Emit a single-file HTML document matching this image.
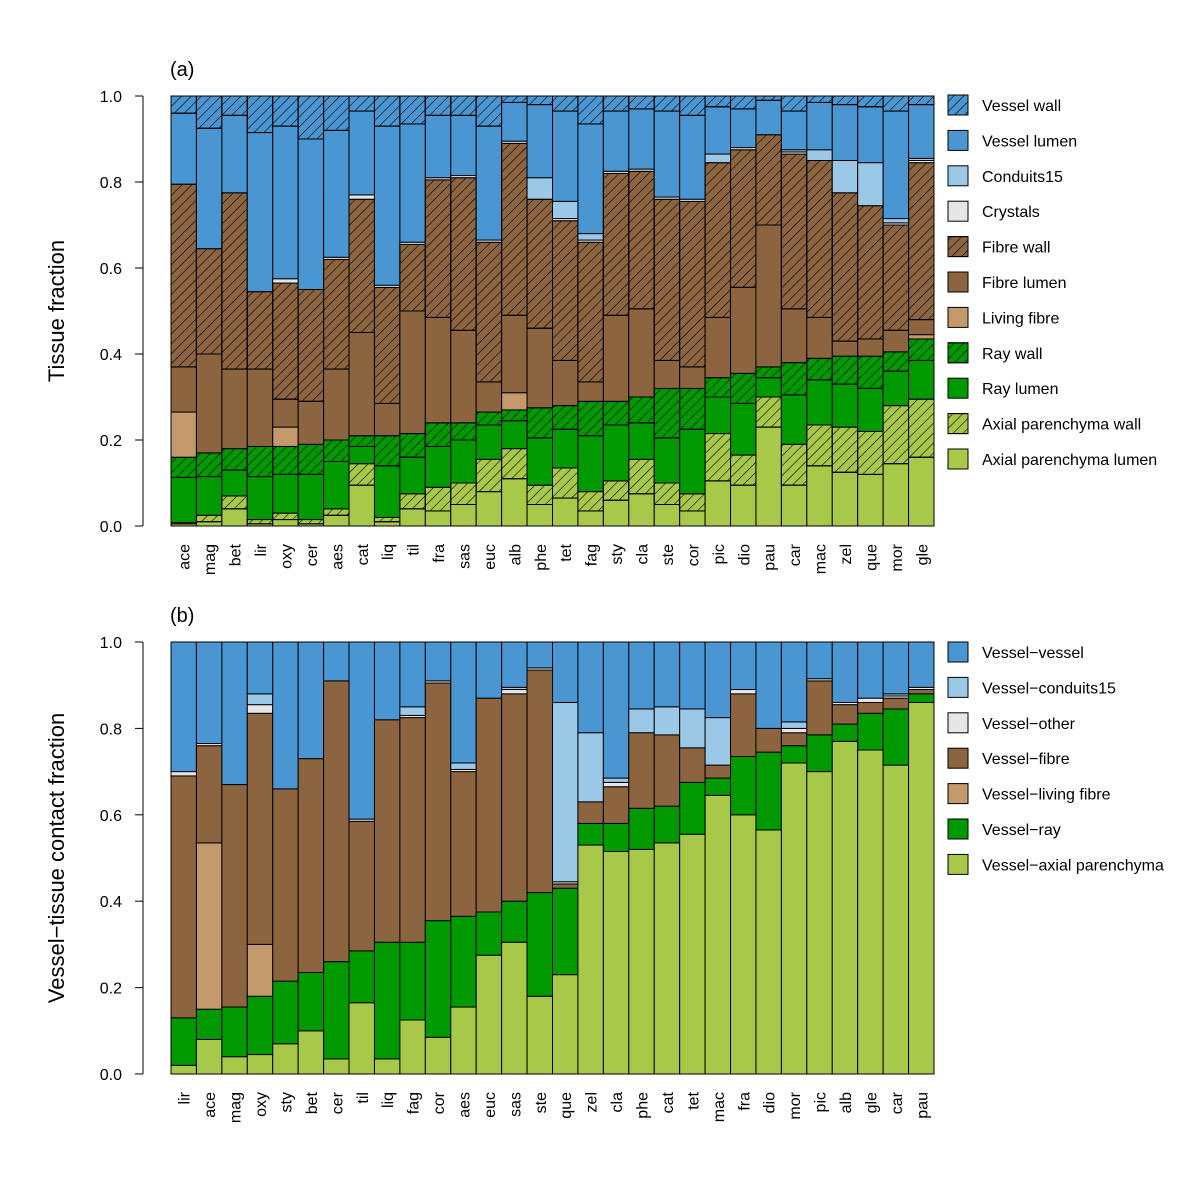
<!DOCTYPE html>
<html><head><meta charset="utf-8"><style>
body{margin:0;background:#fff}
svg{display:block;font-family:"Liberation Sans",Arial,sans-serif}
</style></head><body>
<svg id="chart" width="1196" height="1200" viewBox="0 0 1196 1200">
<defs>
<pattern id="hatch" patternUnits="userSpaceOnUse" width="7" height="7" patternTransform="rotate(45)">
<line x1="0" y1="0" x2="0" y2="7" stroke="#000" stroke-width="1.2"/>
</pattern>
</defs>
</svg>
<script>
// Panel (a) data: cumulative tops (bottom-to-top) per species
const speciesA=["ace","mag","bet","lir","oxy","cer","aes","cat","liq","til","fra","sas","euc","alb","phe","tet","fag","sty","cla","ste","cor","pic","dio","pau","car","mac","zel","que","mor","gle"];
const seriesA=["Axial parenchyma lumen","Axial parenchyma wall","Ray lumen","Ray wall","Living fibre","Fibre lumen","Fibre wall","Crystals","Conduits15","Vessel lumen","Vessel wall"];
const cumA=[
[.005,.008,.113,.16,.265,.37,.795,.795,.795,.96,1],
[.01,.025,.115,.17,.17,.40,.645,.645,.645,.925,1],
[.04,.07,.13,.18,.18,.365,.775,.775,.775,.955,1],
[.005,.015,.115,.185,.185,.365,.545,.545,.545,.915,1],
[.015,.03,.12,.185,.23,.295,.565,.575,.575,.93,1],
[.005,.015,.12,.19,.19,.29,.55,.55,.55,.90,1],
[.025,.04,.15,.20,.20,.365,.62,.625,.625,.92,1],
[.095,.145,.185,.21,.21,.45,.76,.77,.77,.965,1],
[.01,.02,.14,.21,.21,.285,.555,.56,.56,.93,1],
[.04,.075,.16,.215,.215,.50,.655,.66,.66,.935,1],
[.035,.09,.185,.24,.24,.485,.805,.81,.81,.955,1],
[.05,.10,.20,.24,.24,.455,.81,.815,.815,.955,1],
[.08,.155,.235,.265,.265,.335,.66,.665,.665,.93,1],
[.11,.18,.245,.27,.31,.49,.89,.895,.895,.985,1],
[.05,.095,.205,.275,.275,.46,.76,.76,.81,.98,1],
[.065,.135,.225,.28,.28,.385,.71,.715,.755,.965,1],
[.035,.08,.21,.29,.29,.335,.66,.665,.68,.935,1],
[.06,.105,.235,.29,.29,.49,.82,.825,.825,.965,1],
[.075,.155,.24,.30,.30,.505,.825,.83,.83,.97,1],
[.05,.10,.205,.32,.32,.385,.76,.765,.765,.965,1],
[.035,.075,.225,.32,.32,.37,.755,.76,.76,.955,1],
[.105,.215,.30,.345,.345,.485,.845,.845,.865,.975,1],
[.095,.165,.285,.355,.355,.555,.875,.88,.88,.97,1],
[.23,.30,.345,.37,.37,.70,.91,.91,.91,.99,1],
[.095,.19,.305,.38,.38,.505,.865,.87,.875,.965,1],
[.14,.235,.34,.39,.39,.485,.85,.85,.875,.985,1],
[.125,.23,.33,.395,.395,.43,.775,.775,.85,.98,1],
[.12,.22,.32,.395,.395,.435,.745,.745,.845,.975,1],
[.145,.28,.36,.405,.405,.455,.70,.705,.715,.965,1],
[.16,.295,.385,.435,.445,.48,.845,.85,.855,.98,1]];
const colorsA=["#a8c84a","#a8c84a","#009a00","#009a00","#c49a6c","#8c6440","#8c6440","#e6e6e6","#9cc8e8","#4a96d2","#4a96d2"];
const hatchA=[false,true,false,true,false,false,true,false,false,false,true];

// Panel (b) data
const speciesB=["lir","ace","mag","oxy","sty","bet","cer","til","liq","fag","cor","aes","euc","sas","ste","que","zel","cla","phe","cat","tet","mac","fra","dio","mor","pic","alb","gle","car","pau"];
const seriesB=["Vessel\u2212axial parenchyma","Vessel\u2212ray","Vessel\u2212living fibre","Vessel\u2212fibre","Vessel\u2212other","Vessel\u2212conduits15","Vessel\u2212vessel"];
const cumB=[
[.02,.13,.13,.69,.70,.70,1],[.08,.15,.535,.76,.765,.765,1],[.04,.155,.155,.67,.67,.67,1],
[.045,.18,.30,.835,.855,.88,1],[.07,.215,.215,.66,.66,.66,1],[.10,.235,.235,.73,.73,.73,1],
[.035,.26,.26,.91,.91,.91,1],[.165,.285,.285,.585,.59,.59,1],[.035,.305,.305,.82,.82,.82,1],
[.125,.305,.305,.825,.83,.85,1],[.085,.355,.355,.905,.91,.91,1],[.155,.365,.365,.70,.705,.72,1],
[.275,.375,.375,.87,.87,.87,1],[.305,.40,.40,.88,.89,.895,1],[.18,.42,.42,.935,.94,.94,1],
[.23,.43,.43,.44,.445,.86,1],[.53,.58,.58,.63,.63,.79,1],[.515,.58,.58,.665,.675,.685,1],
[.52,.615,.615,.79,.79,.845,1],[.535,.62,.62,.785,.785,.85,1],[.555,.675,.675,.755,.755,.845,1],
[.645,.685,.685,.715,.715,.825,1],[.60,.735,.735,.88,.89,.89,1],[.565,.745,.745,.80,.80,.80,1],
[.72,.76,.76,.79,.80,.815,1],[.70,.785,.785,.91,.915,.915,1],[.77,.81,.81,.855,.86,.86,1],
[.75,.835,.835,.86,.87,.87,1],[.715,.845,.845,.87,.875,.88,1],[.86,.88,.88,.89,.895,.895,1]];
const colorsB=["#a8c84a","#009a00","#c49a6c","#8c6440","#e6e6e6","#9cc8e8","#4a96d2"];
const yTicks=[0,0.2,0.4,0.6,0.8,1.0];

const NS="http://www.w3.org/2000/svg";
const svg=document.getElementById("chart");
function mk(tag,attrs,parent){const e=document.createElementNS(NS,tag);for(const k in attrs)e.setAttribute(k,attrs[k]);(parent||svg).appendChild(e);return e;}

function panel(p){
  const g=mk("g",{});
  
  
  const x0=171,x1=934,bw=(x1-x0)/p.species.length;
  const y=v=>p.yb-(p.yb-p.yt)*v;
  const xs=i=>x0+i*bw;
  p.cum.forEach((row,i)=>{
    let prev=0;
    row.forEach((top,s)=>{
      const h=y(prev)-y(top);
      if(h>0.01){
        const r=mk("rect",{x:xs(i),y:y(top),width:bw,height:h,fill:p.colors[s],stroke:"#000","stroke-width":1},g);
        
        
        if(p.hatch&&p.hatch[s]) mk("rect",{x:xs(i),y:y(top),width:bw,height:h,fill:"url(#hatch)",stroke:"#000","stroke-width":1},g);
      }
      prev=top;
    });
    const t=mk("text",{transform:`translate(${xs(i)+bw/2+6},${p.yb+18}) rotate(-90)`,"text-anchor":"end","font-size":16},g);
    t.textContent=p.species[i];
    
    
  });
  mk("line",{x1:143,x2:143,y1:y(0),y2:y(1),stroke:"#000","stroke-width":1},g);
  yTicks.forEach(v=>{
    mk("line",{x1:135,x2:143,y1:y(v),y2:y(v),stroke:"#000"},g);
    const t=mk("text",{x:122,y:y(v)+6,"text-anchor":"end","font-size":16},g);
    t.textContent=v.toFixed(1);
    
    
  });
  const at=mk("text",{transform:`translate(64,${(p.yt+p.yb)/2}) rotate(-90)`,"text-anchor":"middle","font-size":22},g);
  at.textContent=p.ytitle;
  
  
  const pt=mk("text",{x:170,y:p.yt-20,"font-size":20},g);
  pt.textContent=p.tag;
  
  
  const n=p.series.length;
  for(let k=0;k<n;k++){
    const s=n-1-k, ly=p.ly+k*35.4;
    const lr=mk("rect",{x:948,y:ly-10,width:20,height:20,fill:p.colors[s],stroke:"#000"},g);
    
    
    if(p.hatch&&p.hatch[s]) mk("rect",{x:948,y:ly-10,width:20,height:20,fill:"url(#hatch)",stroke:"#000"},g);
    const lt=mk("text",{x:982,y:ly+6,"font-size":16},g);
    lt.textContent=p.series[s];
    
    
  }
}
panel({name:"panel-a",species:speciesA,cum:cumA,colors:colorsA,hatch:hatchA,series:seriesA,yt:96,yb:526,ytitle:"Tissue fraction",tag:"(a)",ly:105});
panel({name:"panel-b",species:speciesB,cum:cumB,colors:colorsB,hatch:null,series:seriesB,yt:642,yb:1074,ytitle:"Vessel\u2212tissue contact fraction",tag:"(b)",ly:652});
</script>
</body></html>
